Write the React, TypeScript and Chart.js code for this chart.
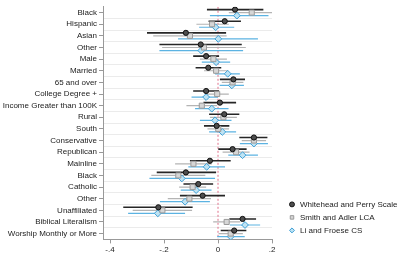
import { useEffect, useRef } from "react";
import { Chart, registerables } from "chart.js";

Chart.register(...registerables);

const categories = [
  "Black",
  "Hispanic",
  "Asian",
  "Other",
  "Male",
  "Married",
  "65 and over",
  "College Degree +",
  "Income Greater than 100K",
  "Rural",
  "South",
  "Conservative",
  "Republican",
  "Mainline",
  "Black",
  "Catholic",
  "Other",
  "Unaffiliated",
  "Biblical Literalism",
  "Worship Monthly or More",
];

const xTickValues = [-0.4, -0.2, 0, 0.2];
const xTickLabels = ["-.4", "-.2", "0", ".2"];

const seriesNames = ["Whitehead and Perry Scale", "Smith and Adler LCA", "Li and Froese CS"];

const whiteheadEst = [0.063, 0.025, -0.119, -0.064, -0.044, -0.036, 0.057, -0.044, 0.007, 0.023, -0.005, 0.133, 0.054, -0.03, -0.119, -0.073, -0.057, -0.221, 0.091, 0.06];
const whiteheadLo = [-0.041, -0.035, -0.263, -0.217, -0.092, -0.083, 0.007, -0.092, -0.054, -0.033, -0.052, 0.079, 0.001, -0.104, -0.227, -0.128, -0.141, -0.351, 0.042, 0.01];
const whiteheadHi = [0.168, 0.085, 0.03, 0.088, 0.004, 0.012, 0.1, 0.004, 0.067, 0.079, 0.042, 0.183, 0.106, 0.047, -0.007, -0.018, 0.026, -0.094, 0.141, 0.105];

const smithEst = [0.125, -0.022, -0.104, -0.052, -0.017, -0.007, 0.054, -0.003, -0.06, 0.02, 0.001, 0.133, 0.067, -0.091, -0.147, -0.094, -0.106, -0.206, 0.032, 0.047];
const smithLo = [0.04, -0.08, -0.24, -0.207, -0.067, -0.052, 0.014, -0.046, -0.117, -0.03, -0.039, 0.088, 0.017, -0.159, -0.247, -0.144, -0.186, -0.316, -0.018, 0.002];
const smithHi = [0.205, 0.04, 0.032, 0.103, 0.033, 0.038, 0.094, 0.04, -0.003, 0.07, 0.041, 0.178, 0.117, -0.023, -0.047, -0.044, -0.026, -0.096, 0.082, 0.092];

const liEst = [0.07, -0.009, 0.001, -0.062, -0.007, 0.036, 0.051, -0.044, -0.023, -0.011, 0.016, 0.133, 0.091, -0.042, -0.134, -0.081, -0.122, -0.223, 0.1, 0.047];
const liLo = [-0.03, -0.07, -0.148, -0.217, -0.06, -0.011, 0.006, -0.098, -0.085, -0.067, -0.033, 0.081, 0.038, -0.11, -0.254, -0.138, -0.215, -0.333, 0.044, -0.003];
const liHi = [0.187, 0.06, 0.148, 0.093, 0.045, 0.081, 0.096, 0.0, 0.039, 0.05, 0.067, 0.185, 0.148, 0.026, -0.011, -0.024, -0.03, -0.122, 0.156, 0.099];

export default function App() {
  const ref = useRef<HTMLCanvasElement>(null);

  useEffect(() => {
    if (!ref.current) return;
    const offsets = [-0.26, 0, 0.26];
    const series = [
      { name: seriesNames[0], est: whiteheadEst, lo: whiteheadLo, hi: whiteheadHi, style: "circle", radius: 2.6, fill: "#4d4d4d", border: "#111111", line: "#262626", lineWidth: 1.6 },
      { name: seriesNames[1], est: smithEst, lo: smithLo, hi: smithHi, style: "rect", radius: 3.6, fill: "#d6d6d6", border: "#9a9a9a", line: "#b4b4b4", lineWidth: 1.2 },
      { name: seriesNames[2], est: liEst, lo: liLo, hi: liHi, style: "rectRot", radius: 3.4, fill: "#bfe3f3", border: "#3d9fd6", line: "#5cb3e2", lineWidth: 1.2 },
    ];

    const pointSets = series.map((s, k) => ({
      label: s.name,
      data: s.est.map((v, i) => ({ x: v, y: i + offsets[k] })),
      pointStyle: s.style,
      pointRadius: s.radius,
      pointHoverRadius: s.radius,
      backgroundColor: s.fill,
      borderColor: s.border,
      borderWidth: 1,
      showLine: false,
    }));

    const ciSets = series.map((s, k) => ({
      label: s.name + " CI",
      data: s.lo.flatMap((lo, i) => [
        { x: lo, y: i + offsets[k] },
        { x: s.hi[i], y: i + offsets[k] },
        { x: null, y: null },
      ]),
      showLine: true,
      spanGaps: false,
      pointRadius: 0,
      pointHoverRadius: 0,
      borderColor: s.line,
      backgroundColor: s.line,
      borderWidth: s.lineWidth,
    }));

    const zeroLine = {
      label: "zero",
      data: [
        { x: 0, y: -0.5 },
        { x: 0, y: categories.length - 0.5 },
      ],
      showLine: true,
      pointRadius: 0,
      borderColor: "#e0708a",
      borderWidth: 1,
      borderDash: [2, 2],
    };

    const yTicks = (scale: any) => {
      scale.ticks = categories.map((_, i) => ({ value: i }));
    };

    const chart = new Chart(ref.current, {
      type: "scatter",
      data: { datasets: [...pointSets, ...ciSets, zeroLine] as any },
      options: {
        animation: false,
        responsive: false,
        events: [],
        font: { family: "'Liberation Sans', Arial, sans-serif" },
        layout: { padding: { top: 1, left: 2, right: 0, bottom: 0 } },
        plugins: {
          tooltip: { enabled: false },
          legend: {
            position: "right",
            align: "end",
            fullSize: false,
            maxWidth: 117,
            labels: {
              usePointStyle: true,
              boxWidth: 8,
              boxHeight: 3.5,
              padding: 5,
              color: "#222",
              font: { size: 8, family: "'Liberation Sans', Arial, sans-serif" },
              filter: (item: any) => item.datasetIndex < 3,
            },
          },
        },
        scales: {
          x: {
            type: "linear",
            min: -0.426,
            max: 0.2,
            afterBuildTicks: (scale: any) => {
              scale.ticks = xTickValues.map((v) => ({ value: v }));
            },
            ticks: {
              autoSkip: false,
              maxRotation: 0,
              padding: 2,
              color: "#222",
              font: { size: 8, family: "'Liberation Sans', Arial, sans-serif" },
              callback: (_v: any, i: number) => xTickLabels[i],
            },
            grid: { drawOnChartArea: false, tickLength: 4, tickColor: "#999" },
            border: { display: true, color: "#999" },
          },
          y: {
            type: "linear",
            reverse: true,
            min: -0.5,
            max: categories.length - 0.5,
            afterBuildTicks: yTicks,
            afterFit: (scale: any) => {
              scale.width = 101;
            },
            ticks: {
              autoSkip: false,
              padding: 2,
              color: "#222",
              font: { size: 8, family: "'Liberation Sans', Arial, sans-serif" },
              callback: (_v: any, i: number) => categories[i],
            },
            grid: { drawOnChartArea: false, tickLength: 4, tickColor: "#999" },
            border: { display: true, color: "#999" },
          },
          y2: {
            type: "linear",
            position: "right",
            reverse: true,
            min: -0.5,
            max: categories.length - 0.5,
            afterBuildTicks: yTicks,
            afterFit: (scale: any) => {
              scale.width = 11;
            },
            ticks: { display: false },
            grid: {
              offset: true,
              drawTicks: false,
              color: (ctx: any) => (ctx.index === 0 ? "rgba(0,0,0,0)" : "#ebebeb"),
            },
            border: { display: false },
          },
        },
      } as any,
    });

    return () => chart.destroy();
  }, []);

  return (
    <div style={{ position: "fixed", left: 0, top: 0, width: 400, height: 257, background: "#fff" }}>
      <canvas ref={ref} width={400} height={257} style={{ display: "block" }} />
    </div>
  );
}
